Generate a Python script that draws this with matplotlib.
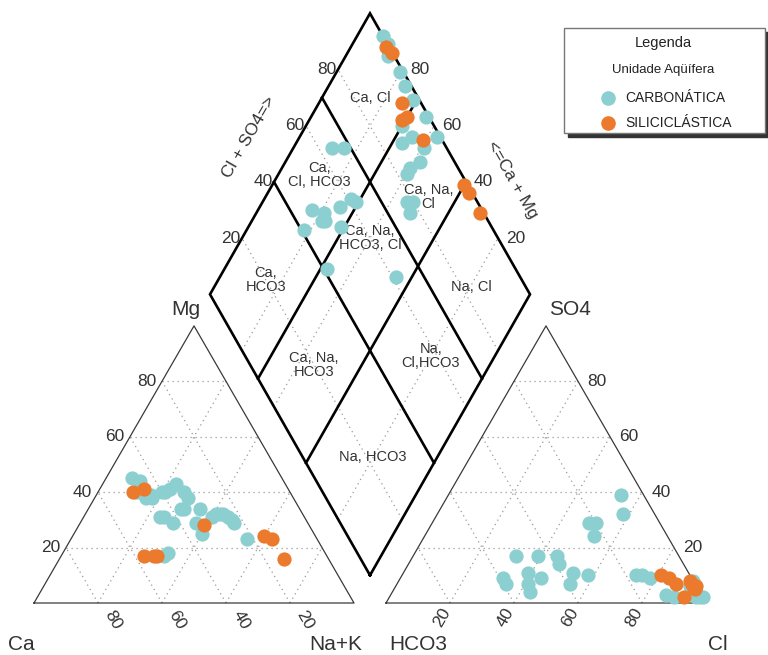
import numpy as np
import matplotlib
matplotlib.use("Agg")
import matplotlib.pyplot as plt
from matplotlib.patches import Rectangle

plt.rcParams['font.family'] = ['Liberation Sans', 'DejaVu Sans']

H = np.sqrt(3) / 2      # triangle height (side = 1)
HD = 0.878              # diamond half-height (drawn a touch taller)
GAP = 0.1               # gap between the two triangles

# -- data (meq %) -------------------------------------------------------
# CARBONÁTICA samples: cations Mg, Na+K ; anions SO4, Cl (Ca, HCO3 = rest)
carb_mg = [38, 17, 39, 41, 43, 40, 29, 31, 40, 23, 38, 40, 38, 29, 31, 30,
           31, 25, 18, 32, 34, 34, 32, 40, 40, 31, 34, 45, 44, 29, 32]
carb_na = [18, 32, 17, 22, 23, 21, 29, 25, 27, 55, 29, 12, 16, 48, 45, 47,
           40, 40, 33, 42, 35, 30, 41, 13, 20, 24, 29, 8, 11, 36, 43]
carb_so4 = [9, 7, 4, 7, 17, 11, 9, 17, 7, 14, 17, 11, 10, 24, 29, 29,
            10, 10, 9, 3, 2, 32, 39, 2, 5, 3, 6, 8, 2, 2, 4]
carb_cl = [32, 34, 43, 41, 32, 39, 44, 39, 54, 47, 45, 53, 58, 53, 49, 51,
           73, 75, 78, 86, 89, 58, 54, 96, 94, 95, 92, 92, 98, 97, 95]

# SILICICLÁSTICA samples
sil_mg = [40, 41, 17, 17, 17, 28, 24, 23, 16]
sil_na = [11, 14, 26, 30, 29, 39, 60, 63, 70]
sil_so4 = [7, 6, 7, 9, 10, 2, 8, 5, 6]
sil_cl = [92, 94, 87, 84, 81, 92, 91, 94, 93]

groups = ["CARBONÁTICA", "SILICICLÁSTICA"]
colors = ["#8CCFD0", "#EC7A2C"]

# diamond facies labels: (text, Cl+SO4 fraction, Ca+Mg fraction)
facies = [("Ca, Cl", 0.85, 0.85), ("Ca,\nCl, HCO3", 0.555, 0.87),
          ("Ca, Na,\nCl", 0.855, 0.49), ("Ca,\nHCO3", 0.20, 0.85),
          ("Ca, Na,\nHCO3, Cl", 0.60, 0.60), ("Na, Cl", 0.83, 0.195),
          ("Ca, Na,\nHCO3", 0.20, 0.55), ("Na,\nCl,HCO3", 0.58, 0.20),
          ("Na, HCO3", 0.22, 0.20)]
facies_cuts = [0.4, 0.7]
ticks = [20, 40, 60, 80]

# -- geometry -----------------------------------------------------------
B = np.array([1 + GAP / 2, GAP * H])
U1 = np.array([0.5, HD])
U2 = np.array([-0.5, HD])
XR = 1 + GAP


def cation_xy(mg, na):
    mg, na = np.asarray(mg) / 100, np.asarray(na) / 100
    return na + mg / 2, mg * H


def anion_xy(so4, cl):
    so4, cl = np.asarray(so4) / 100, np.asarray(cl) / 100
    return XR + cl + so4 / 2, so4 * H


def diamond_xy(cs, cm):
    cs = np.atleast_1d(np.asarray(cs, float))
    cm = np.atleast_1d(np.asarray(cm, float))
    p = B[:, None] + np.outer(U1, cs) + np.outer(U2, cm)
    return p[0], p[1]


fig = plt.figure(figsize=(7.68, 6.55), dpi=100)
ax = fig.add_axes([0, 0, 1, 1])
ax.set_xlim(-34 / 320, (768 - 34) / 320)
ax.set_ylim(-52 / 320, 603 / 320)
ax.axis("off")

grid = dict(color="#9a9a9a", lw=0.9, ls=(0, (1, 3)), zorder=1)
tri = dict(color="#3a3a3a", lw=0.9, zorder=2)
dia = dict(color="black", lw=1.9, zorder=2, solid_joinstyle="miter")

for x0 in (0, XR):
    ax.plot([x0, x0 + 1, x0 + 0.5, x0], [0, 0, H, 0], **tri)
    for t in ticks:
        v = t / 100
        ax.plot([x0 + v / 2, x0 + 1 - v / 2], [v * H, v * H], **grid)
        ax.plot([x0 + v, x0 + v + (1 - v) / 2], [0, (1 - v) * H], **grid)
        ax.plot([x0 + 1 - v, x0 + (1 - v) / 2], [0, (1 - v) * H], **grid)

# diamond
for t in ticks:
    v = t / 100
    ax.plot(*diamond_xy([v, v], [0, 1]), **grid)
    ax.plot(*diamond_xy([0, 1], [v, v]), **grid)
ax.plot(*diamond_xy([0, 1, 1, 0, 0], [0, 0, 1, 1, 0]), **dia)
for c in facies_cuts:
    ax.plot(*diamond_xy([c, c], [0, 1]), **dia)
    ax.plot(*diamond_xy([0, 1], [c, c]), **dia)
for txt, cs, cm in facies:
    x, y = diamond_xy(cs, cm)
    ax.text(x[0], y[0], txt, fontsize=10.5, color="#333333",
            ha="center", va="center", linespacing=1.0, zorder=3)

# tick labels
tk = dict(fontsize=12.5, color="#333333", zorder=3)
for t in ticks:
    v = t / 100
    ax.text(v / 2 - 0.018, v * H, str(t), ha="right", va="center", **tk)
    ax.text(1 - v + 0.047, -0.053, str(t), ha="center", va="center",
            rotation=-60, **tk)
    ax.text(XR + 1 - v / 2 + 0.03, v * H, str(t), ha="left", va="center", **tk)
    ax.text(XR + v - 0.025, -0.045, str(t), ha="center", va="center",
            rotation=60, **tk)
    x, y = diamond_xy(v, 1)
    ax.text(x[0] - 0.005, y[0], str(t), ha="right", va="center", **tk)
    x, y = diamond_xy(1, v)
    ax.text(x[0] + 0.025, y[0], str(t), ha="left", va="center", **tk)

x, y = diamond_xy(0.48, 1)
ax.text(x[0] - 0.138 * H, y[0] + 0.138 * 0.5, "Cl + SO4=>", rotation=60,
        ha="center", va="center", **tk)
x, y = diamond_xy(1, 0.336)
ax.text(x[0] + 0.128 * H, y[0] + 0.128 * 0.5, "<=Ca + Mg", rotation=-60,
        ha="center", va="center", **tk)

corner = dict(fontsize=15, color="#333333", ha="center", va="center")
ax.text(0.475, H + 0.05, "Mg", **corner)
ax.text(-0.04, -0.131, "Ca", **corner)
ax.text(0.944, -0.131, "Na+K", **corner)
ax.text(XR + 0.1, -0.131, "HCO3", **corner)
ax.text(XR + 1.037, -0.131, "Cl", **corner)
ax.text(XR + 0.575, H + 0.05, "SO4", **corner)

# samples
data = [(carb_mg, carb_na, carb_so4, carb_cl),
        (sil_mg, sil_na, sil_so4, sil_cl)]
for (mg, na, so4, cl), col in zip(data, colors):
    mg, na, so4, cl = map(np.asarray, (mg, na, so4, cl))
    ca_mg = (100 - na) / 100
    cl_so4 = (cl + so4) / 100
    ax.scatter(*cation_xy(mg, na), s=105, color=col, lw=0, zorder=4)
    ax.scatter(*anion_xy(so4, cl), s=105, color=col, lw=0, zorder=4)
    ax.scatter(*diamond_xy(cl_so4, ca_mg), s=105, color=col, lw=0, zorder=4)


# legend box with shadow
def fpos(px, py):
    return px / 768, 1 - py / 655


x0, y0 = fpos(564, 133)
w, h = 201 / 768, 105 / 655
fig.patches.append(Rectangle((x0 + 4 / 768, y0 - 4 / 655), w, h,
                             transform=fig.transFigure, color="#333333",
                             zorder=5))
fig.patches.append(Rectangle((x0, y0), w, h, transform=fig.transFigure,
                             facecolor="white", edgecolor="#777777", lw=1,
                             zorder=6))
fig.text(*fpos(663, 43), "Legenda", fontsize=10.5, ha="center", va="center",
         color="#222222", zorder=7)
fig.text(*fpos(663, 70), "Unidade Aqüífera", fontsize=9.5, ha="center",
         va="center", color="#222222", zorder=7)
for i, (g, col) in enumerate(zip(groups, colors)):
    py = 98 + 25 * i
    fig.add_artist(plt.Line2D([608 / 768], [1 - py / 655], marker="o",
                              ms=9.5, color=col, mec=col, ls="none",
                              transform=fig.transFigure, zorder=7))
    fig.text(*fpos(625, py), g, fontsize=10, ha="left", va="center",
             color="#222222", zorder=7)

fig.savefig("out.png", dpi=100, facecolor="white")
